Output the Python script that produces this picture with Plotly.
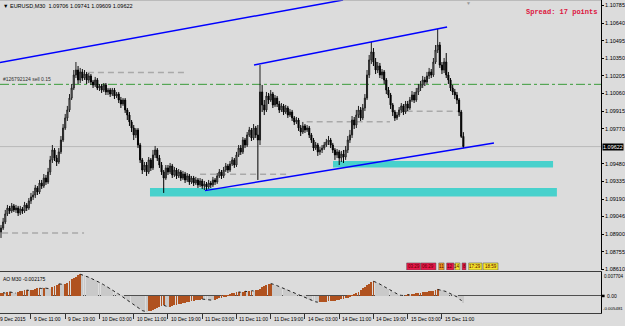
import plotly.graph_objects as go
import pandas as pd

# ---------------- data (EURUSD M30) ----------------
first_open = 1.08918
closes = [
    1.08951, 1.09001, 1.09067, 1.09116, 1.09091, 1.09133, 1.09100, 1.09116, 1.09075, 1.09108,
    1.09091, 1.09141, 1.09116, 1.09174, 1.09207, 1.09223, 1.09281, 1.09248, 1.09322, 1.09297,
    1.09363, 1.09330, 1.09413, 1.09512, 1.09594, 1.09528, 1.09495, 1.09578, 1.09676, 1.09775,
    1.09858, 1.09924, 1.10022, 1.10105, 1.10212, 1.10253, 1.10171, 1.10237, 1.10187, 1.10220,
    1.10171, 1.10204, 1.10154, 1.10130, 1.10171, 1.10105, 1.10121, 1.10088, 1.10130, 1.10072,
    1.10088, 1.10055, 1.10088, 1.10039, 1.10055, 1.10006, 1.09973, 1.10006, 1.09924, 1.09882,
    1.09825, 1.09775, 1.09718, 1.09759, 1.09635, 1.09512, 1.09429, 1.09470, 1.09413, 1.09512,
    1.09446, 1.09553, 1.09594, 1.09528, 1.09470, 1.09413, 1.09363, 1.09446, 1.09413, 1.09462,
    1.09388, 1.09429, 1.09380, 1.09413, 1.09363, 1.09396, 1.09347, 1.09380, 1.09330, 1.09363,
    1.09322, 1.09347, 1.09306, 1.09339, 1.09297, 1.09314, 1.09289, 1.09322, 1.09306, 1.09347,
    1.09330, 1.09380, 1.09413, 1.09380, 1.09429, 1.09462, 1.09429, 1.09479, 1.09512, 1.09470,
    1.09553, 1.09610, 1.09578, 1.09676, 1.09635, 1.09718, 1.09759, 1.09693, 1.09775, 1.09718,
    1.09676, 1.10072, 1.09965, 1.09924, 1.10039, 1.10006, 1.10055, 1.09965, 1.10022, 1.09973,
    1.09924, 1.09957, 1.09907, 1.09940, 1.09882, 1.09907, 1.09858, 1.09825, 1.09841, 1.09775,
    1.09742, 1.09792, 1.09759, 1.09775, 1.09718, 1.09676, 1.09610, 1.09635, 1.09578, 1.09594,
    1.09610, 1.09635, 1.09660, 1.09676, 1.09635, 1.09594, 1.09553, 1.09578, 1.09528, 1.09561,
    1.09536, 1.09594, 1.09676, 1.09718, 1.09841, 1.09800, 1.09882, 1.09924, 1.09858, 1.09940,
    1.10022, 1.10212, 1.10336, 1.10402, 1.10319, 1.10253, 1.10286, 1.10212, 1.10237, 1.10171,
    1.10088, 1.10047, 1.09965, 1.09907, 1.09858, 1.09882, 1.09924, 1.09957, 1.09907, 1.09973,
    1.09940, 1.10006, 1.10047, 1.10006, 1.10072, 1.10105, 1.10130, 1.10171, 1.10154, 1.10204,
    1.10237, 1.10212, 1.10319, 1.10418, 1.10459, 1.10294, 1.10253, 1.10319, 1.10212, 1.10171,
    1.10105, 1.10072, 1.10047, 1.10006, 1.09907, 1.09706, 1.09622,
]
highs = [
    1.08976, 1.09034, 1.09100, 1.09141, 1.09133, 1.09157, 1.09149, 1.09141, 1.09133, 1.09133,
    1.09124, 1.09166, 1.09157, 1.09198, 1.09240, 1.09256, 1.09306, 1.09297, 1.09347, 1.09347,
    1.09396, 1.09388, 1.09446, 1.09545, 1.09635, 1.09610, 1.09553, 1.09610, 1.09709, 1.09808,
    1.09891, 1.09957, 1.10055, 1.10138, 1.10253, 1.10319, 1.10286, 1.10270, 1.10261, 1.10253,
    1.10237, 1.10228, 1.10220, 1.10171, 1.10196, 1.10187, 1.10138, 1.10138, 1.10146, 1.10146,
    1.10105, 1.10105, 1.10105, 1.10105, 1.10072, 1.10072, 1.10031, 1.10022, 1.10022, 1.09940,
    1.09907, 1.09841, 1.09800, 1.09775, 1.09775, 1.09652, 1.09528, 1.09495, 1.09495, 1.09536,
    1.09528, 1.09594, 1.09627, 1.09610, 1.09553, 1.09495, 1.09429, 1.09470, 1.09470, 1.09487,
    1.09479, 1.09454, 1.09446, 1.09437, 1.09429, 1.09421, 1.09413, 1.09404, 1.09396, 1.09380,
    1.09380, 1.09372, 1.09363, 1.09363, 1.09355, 1.09339, 1.09330, 1.09347, 1.09339, 1.09372,
    1.09363, 1.09404, 1.09437, 1.09429, 1.09454, 1.09487, 1.09479, 1.09503, 1.09536, 1.09528,
    1.09578, 1.09635, 1.09635, 1.09701, 1.09693, 1.09742, 1.09784, 1.09775, 1.09808, 1.09792,
    1.09800, 1.10294, 1.10130, 1.10006, 1.10072, 1.10064, 1.10088, 1.10072, 1.10047, 1.10039,
    1.09998, 1.09981, 1.09973, 1.09965, 1.09957, 1.09932, 1.09924, 1.09874, 1.09866, 1.09858,
    1.09800, 1.09825, 1.09808, 1.09800, 1.09792, 1.09734, 1.09693, 1.09660, 1.09652, 1.09619,
    1.09635, 1.09660, 1.09685, 1.09709, 1.09693, 1.09652, 1.09610, 1.09602, 1.09594, 1.09586,
    1.09594, 1.09627, 1.09709, 1.09759, 1.09874, 1.09866, 1.09924, 1.09957, 1.09948, 1.09973,
    1.10055, 1.10253, 1.10377, 1.10484, 1.10434, 1.10352, 1.10319, 1.10311, 1.10261, 1.10253,
    1.10187, 1.10113, 1.10064, 1.09981, 1.09924, 1.09907, 1.09948, 1.09981, 1.09973, 1.09998,
    1.09998, 1.10031, 1.10080, 1.10072, 1.10105, 1.10138, 1.10163, 1.10204, 1.10196, 1.10237,
    1.10270, 1.10261, 1.10352, 1.10459, 1.10591, 1.10484, 1.10319, 1.10352, 1.10393, 1.10237,
    1.10187, 1.10130, 1.10097, 1.10072, 1.10022, 1.09924, 1.09741,
]
lows = [
    1.08869, 1.08935, 1.08984, 1.09050, 1.09067, 1.09075, 1.09083, 1.09075, 1.09050, 1.09058,
    1.09067, 1.09075, 1.09091, 1.09100, 1.09149, 1.09182, 1.09198, 1.09223, 1.09231, 1.09273,
    1.09281, 1.09306, 1.09314, 1.09388, 1.09487, 1.09503, 1.09462, 1.09479, 1.09561, 1.09660,
    1.09759, 1.09833, 1.09907, 1.10006, 1.10088, 1.10187, 1.10138, 1.10146, 1.10163, 1.10171,
    1.10138, 1.10146, 1.10130, 1.10105, 1.10113, 1.10088, 1.10080, 1.10064, 1.10072, 1.10047,
    1.10047, 1.10031, 1.10039, 1.10014, 1.10022, 1.09981, 1.09940, 1.09957, 1.09899, 1.09841,
    1.09792, 1.09742, 1.09676, 1.09693, 1.09610, 1.09487, 1.09396, 1.09413, 1.09380, 1.09396,
    1.09421, 1.09429, 1.09528, 1.09503, 1.09446, 1.09388, 1.09240, 1.09347, 1.09388, 1.09396,
    1.09363, 1.09372, 1.09355, 1.09363, 1.09339, 1.09347, 1.09322, 1.09330, 1.09306, 1.09314,
    1.09297, 1.09306, 1.09281, 1.09289, 1.09273, 1.09264, 1.09256, 1.09273, 1.09281, 1.09289,
    1.09306, 1.09314, 1.09363, 1.09355, 1.09363, 1.09413, 1.09404, 1.09413, 1.09462, 1.09446,
    1.09454, 1.09536, 1.09553, 1.09561, 1.09610, 1.09619, 1.09701, 1.09668, 1.09676, 1.09693,
    1.09347, 1.09635, 1.09907, 1.09882, 1.09907, 1.09973, 1.09990, 1.09940, 1.09948, 1.09948,
    1.09899, 1.09907, 1.09882, 1.09891, 1.09858, 1.09866, 1.09833, 1.09800, 1.09808, 1.09751,
    1.09709, 1.09726, 1.09734, 1.09742, 1.09693, 1.09652, 1.09586, 1.09594, 1.09545, 1.09553,
    1.09569, 1.09594, 1.09619, 1.09635, 1.09610, 1.09569, 1.09512, 1.09528, 1.09470, 1.09495,
    1.09487, 1.09512, 1.09569, 1.09652, 1.09693, 1.09767, 1.09775, 1.09858, 1.09833, 1.09841,
    1.09915, 1.10006, 1.10187, 1.10303, 1.10286, 1.10220, 1.10228, 1.10187, 1.10179, 1.10138,
    1.10055, 1.10022, 1.09932, 1.09874, 1.09833, 1.09841, 1.09866, 1.09899, 1.09882, 1.09891,
    1.09915, 1.09924, 1.09990, 1.09981, 1.09990, 1.10047, 1.10080, 1.10105, 1.10121, 1.10138,
    1.10179, 1.10187, 1.10196, 1.10303, 1.10393, 1.10270, 1.10220, 1.10228, 1.10187, 1.10138,
    1.10080, 1.10047, 1.10014, 1.09973, 1.09874, 1.09693, 1.09609,
]
opens = [first_open] + closes[:-1]

ao_values = [
    0.0010, 0.0011, 0.0009, 0.0012, 0.0013, 0.0011, 0.0010, 0.0009, 0.0012, 0.0015,
    0.0017, 0.0018, 0.0019, 0.0018, 0.0019, 0.0020, 0.0022, 0.0024, 0.0025, 0.0024,
    0.0026, 0.0025, 0.0024, 0.0023, 0.0028, 0.0032, 0.0035, 0.0039, 0.0038, 0.0037,
    0.0039, 0.0043, 0.0048, 0.0053, 0.0058, 0.0062, 0.0067, 0.0070, 0.0068, 0.0066,
    0.0063, 0.0060, 0.0057, 0.0054, 0.0051, 0.0047, 0.0044, 0.0040, 0.0036, 0.0032,
    0.0028, 0.0024, 0.0020, 0.0016, 0.0011, 0.0006, 0.0001, -0.0004, -0.0009, -0.0014,
    -0.0019, -0.0024, -0.0029, -0.0034, -0.0039, -0.0043, -0.0047, -0.0049, -0.0050, -0.00495,
    -0.0048, -0.0045, -0.0042, -0.0039, -0.0036, -0.0033, -0.0030, -0.0032, -0.0035, -0.0034,
    -0.0032, -0.0030, -0.0028, -0.0027, -0.0025, -0.0023, -0.0022, -0.0020, -0.0019, -0.0017,
    -0.0016, -0.0014, -0.0013, -0.0012, -0.0010, -0.0011, -0.0012, -0.0013, -0.00135, -0.0014,
    -0.0012, -0.0010, -0.0008, -0.0006, -0.0004, -0.0001, 0.0002, 0.0005, 0.0008, 0.0010,
    0.0012, 0.0013, 0.0012, 0.0014, 0.0015, 0.0014, 0.0016, 0.0017, 0.0016, 0.0018,
    0.0019, 0.0023, 0.0028, 0.0032, 0.0035, 0.0038, 0.0040, 0.0039, 0.0036, 0.0033,
    0.0030, 0.0027, 0.0024, 0.0021, 0.0018, 0.0015, 0.0012, 0.0009, 0.0006, 0.0003,
    0.0000, -0.0003, -0.0006, -0.0009, -0.0012, -0.0015, -0.0017, -0.0019, -0.0020, -0.00195,
    -0.0019, -0.00185, -0.0018, -0.0017, -0.00165, -0.0016, -0.0015, -0.0014, -0.0013, -0.0011,
    -0.0009, -0.0007, -0.0005, -0.0002, 0.0001, 0.0005, 0.0009, 0.0014, 0.0019, 0.0024,
    0.0029, 0.0034, 0.0039, 0.0044, 0.0047, 0.0045, 0.0042, 0.0038, 0.0034, 0.0030,
    0.0026, 0.0022, 0.0018, 0.0014, 0.0010, 0.0006, 0.0003, 0.0002, 0.00015, 0.0003,
    0.0004, 0.0003, 0.0005, 0.0007, 0.0008, 0.0009, 0.0011, 0.0012, 0.0013, 0.0014,
    0.0015, 0.0016, 0.0017, 0.0019, 0.0021, 0.0020, 0.0018, 0.0016, 0.0014, 0.0011,
    0.0008, 0.0005, 0.0002, -0.0003, -0.0008, -0.0014, -0.002175,
]

session_a = pd.date_range("2015-12-09 04:00", "2015-12-11 23:30", freq="30min")
session_b = pd.date_range("2015-12-14 00:00", "2015-12-15 16:00", freq="30min")
bar_times = [t.strftime("%Y-%m-%d %H:%M") for t in list(session_a) + list(session_b)]
bar_pos = list(range(len(bar_times)))

time_label_times = ["2015-12-09 11:00", "2015-12-09 19:00", "2015-12-10 03:00", "2015-12-10 11:00",
                    "2015-12-10 19:00", "2015-12-11 03:00", "2015-12-11 11:00", "2015-12-11 19:00",
                    "2015-12-14 03:00", "2015-12-14 11:00", "2015-12-14 19:00", "2015-12-15 03:00",
                    "2015-12-15 11:00"]
time_label_text = ["9 Dec 11:00", "9 Dec 19:00", "10 Dec 03:00", "10 Dec 11:00", "10 Dec 19:00",
                   "11 Dec 03:00", "11 Dec 11:00", "11 Dec 19:00", "14 Dec 03:00", "14 Dec 11:00",
                   "14 Dec 19:00", "15 Dec 03:00", "15 Dec 11:00"]
first_date_label = "9 Dec 2015"

price_ticks = [1.10785, 1.10640, 1.10495, 1.10350, 1.10205, 1.10060, 1.09915, 1.09770,
               1.09480, 1.09335, 1.09190, 1.09046, 1.08900, 1.08755, 1.08610]
price_range = [1.08605, 1.10830]
ao_max, ao_min = 0.007704, -0.005481

bid_price = 1.09622
order_price = 1.10135
order_text = "#126792124 sell 0.15"
header_text = "▼ EURUSD,M30  1.09706 1.09741 1.09609 1.09622"
spread_text = "Spread: 17 points"
ao_title = "AO M30 -0.002175"

# drawn objects (bar position, price)
trend_lines = [((-0.5, 1.10315), (159.8, 1.10830)),
               ((118.2, 1.10294), (208.4, 1.10608)),
               ((95.3, 1.09259), (230.3, 1.09652))]
zones = [(69.6, 259.7, 1.09211, 1.09281), (155.1, 257.9, 1.09450, 1.09503)]
dashed_levels = [(40.6, 86.9, 1.10233), (0.5, 38.8, 1.08910), (93.0, 135.0, 1.09394),
                 (142.8, 181.7, 1.09827), (189.5, 214.0, 1.09913)]
event_text = ["03:29", "06:29", "11", "12", "14", "8", "17:29", "18:59"]
event_start = [189.5, 196.2, 204.5, 208.2, 212.1, 215.4, 218.5, 225.2]
event_end = [196.0, 203.2, 207.0, 211.6, 214.4, 217.2, 224.7, 232.2]
event_color = ["#e8174a", "#e8174a", "#f39a1e", "#e8174a", "#f4e62c", "#e8174a", "#f4e62c", "#f4e62c"]

# ---------------- figure ----------------
BG = "#dcdcdc"
FONT = "Liberation Sans"
fig = go.Figure()

fig.add_trace(go.Candlestick(
    x=bar_pos, open=opens, high=highs, low=lows, close=closes,
    increasing=dict(line=dict(color="#1e1e1e", width=1), fillcolor="#b4b4b4"),
    decreasing=dict(line=dict(color="#000000", width=1), fillcolor="#000000"),
    whiskerwidth=0, xaxis="x", yaxis="y", showlegend=False, hoverinfo="skip"))

ao_colors = []
for i, v in enumerate(ao_values):
    rising = i == 0 or v >= ao_values[i - 1]
    ao_colors.append("#b0521f" if rising else "#c9c9c9")
fig.add_trace(go.Bar(x=bar_pos, y=ao_values, marker=dict(color=ao_colors, line=dict(width=0)),
                     width=0.42, xaxis="x2", yaxis="y2", showlegend=False, hoverinfo="skip"))
ao_fall = []
for i, v in enumerate(ao_values):
    falling = (i > 0 and v < ao_values[i - 1]) or (i + 1 < len(ao_values) and ao_values[i + 1] < v)
    ao_fall.append(v if falling else None)
fig.add_trace(go.Scatter(x=bar_pos, y=ao_fall, mode="lines", connectgaps=False,
                         line=dict(color="#222222", width=1, dash="dot"),
                         xaxis="x2", yaxis="y2", showlegend=False, hoverinfo="skip"))

shapes = []
for x0, x1, y0, y1 in zones:
    shapes.append(dict(type="rect", xref="x", yref="y", x0=x0, x1=x1, y0=y0, y1=y1,
                       fillcolor="#48d1cc", line=dict(width=0), layer="below"))
for x0, x1, y in dashed_levels:
    shapes.append(dict(type="line", xref="x", yref="y", x0=x0, x1=x1, y0=y, y1=y,
                       line=dict(color="#a9a9a9", width=1.5, dash="6px,4px"), layer="below"))
shapes.append(dict(type="line", xref="paper", yref="y", x0=0, x1=1, y0=order_price, y1=order_price,
                   line=dict(color="#3a9c3a", width=1, dash="dashdot"), layer="below"))
shapes.append(dict(type="line", xref="paper", yref="y", x0=0, x1=1, y0=bid_price, y1=bid_price,
                   line=dict(color="#b9b9b9", width=1), layer="below"))
for (xa, ya), (xb, yb) in trend_lines:
    shapes.append(dict(type="line", xref="x", yref="y", x0=xa, y0=ya, x1=xb, y1=yb,
                       line=dict(color="#0000ff", width=1.5)))
for t, x0, x1, c in zip(event_text, event_start, event_end, event_color):
    shapes.append(dict(type="rect", xref="x", yref="y", x0=x0, x1=x1, y0=price_range[0], y1=1.08663,
                       fillcolor=c, line=dict(color="#505050", width=0.5)))
shapes.append(dict(type="rect", xref="paper", yref="y2", x0=1.0, x1=1.006, y0=-0.0004, y1=0.0004,
                   fillcolor="#000000", line=dict(width=0)))
shapes.append(dict(type="line", xref="paper", yref="paper", x0=0, x1=1, y0=1, y1=1,
                   line=dict(color="#9a9a9a", width=1)))

annotations = []
annotations.append(dict(text=header_text, xref="paper", yref="paper", x=0, y=1, xanchor="left",
                        yanchor="top", yshift=-1, xshift=1, showarrow=False,
                        font=dict(family=FONT, size=5.5, color="#000000")))
annotations.append(dict(text="<b>" + spread_text + "</b>", xref="paper", yref="paper", x=0.997, y=1,
                        xanchor="right", yanchor="top", yshift=-6, showarrow=False,
                        font=dict(family="Liberation Mono", size=7, color="#dc143c")))
annotations.append(dict(text=order_text, xref="paper", yref="y", x=0, y=order_price, xanchor="left",
                        yanchor="bottom", xshift=1, yshift=0, showarrow=False,
                        font=dict(family=FONT, size=5, color="#303030")))
annotations.append(dict(text=ao_title, xref="paper", yref="y2 domain", x=0, y=1, xanchor="left",
                        yanchor="top", xshift=1, yshift=-2, showarrow=False,
                        font=dict(family=FONT, size=5, color="#000000")))
annotations.append(dict(text=f"{bid_price:.5f}", xref="paper", yref="y", x=1, y=bid_price,
                        xanchor="left", yanchor="middle", xshift=1, showarrow=False, bgcolor="#000000",
                        borderpad=0, font=dict(family=FONT, size=5.5, color="#ffffff")))
for txt, yv, anc, xs, fs in [(f"{ao_max:.6f}", ao_max, "top", 1, 4.6), ("0.00", 0, "middle", 4, 5),
                             (f"{ao_min:.6f}", ao_min, "bottom", 0, 4.4)]:
    annotations.append(dict(text=txt, xref="paper", yref="y2", x=1, y=yv, xanchor="left", yanchor=anc,
                            xshift=xs, showarrow=False,
                            font=dict(family=FONT, size=fs, color="#000000")))
for t, x0, x1 in zip(event_text, event_start, event_end):
    annotations.append(dict(text=t, xref="x", yref="y", x=(x0 + x1) / 2, y=(price_range[0] + 1.08663) / 2,
                            xanchor="center", yanchor="middle", showarrow=False,
                            font=dict(family=FONT, size=4.5, color="#5a0000")))
annotations.append(dict(text="▼", xref="x", yref="paper", x=218.2, y=1, xanchor="center", yanchor="top",
                        showarrow=False, font=dict(size=5, color="#999999"), yshift=2))
tick_positions = [bar_times.index(t) for t in time_label_times]
annotations.append(dict(text=first_date_label, xref="paper", yref="paper", x=0, y=0, xanchor="left",
                        yanchor="top", xshift=-2, yshift=-1, showarrow=False,
                        font=dict(family=FONT, size=5, color="#000000")))
for pos, txt in zip(tick_positions, time_label_text):
    annotations.append(dict(text=txt, xref="x2", yref="paper", x=pos, y=0, xanchor="left",
                            yanchor="top", xshift=1, yshift=-1, showarrow=False,
                            font=dict(family=FONT, size=5, color="#000000")))

x_range = [-0.47, 280.3]
fig.update_layout(
    width=625, height=326, margin=dict(l=0, r=24, t=0, b=13),
    paper_bgcolor=BG, plot_bgcolor=BG, hovermode=False, showlegend=False,
    bargap=0,
    xaxis=dict(domain=[0, 1], range=x_range, anchor="y", showticklabels=False, showgrid=False,
               zeroline=False, showline=False, ticks="", rangeslider=dict(visible=False)),
    yaxis=dict(domain=[0.1374, 1], range=price_range, side="right", anchor="x", showgrid=False,
               zeroline=False, showline=True, linecolor="#000000", linewidth=1,
               tickvals=price_ticks, ticktext=[f"{p:.5f}" for p in price_ticks],
               ticks="outside", ticklen=2, tickcolor="#000000",
               tickfont=dict(family=FONT, size=5.5, color="#000000")),
    xaxis2=dict(domain=[0, 1], range=x_range, anchor="y2", showticklabels=False, showgrid=False,
                zeroline=False, showline=True, mirror=True, linecolor="#3c3c3c", linewidth=1,
                tickvals=tick_positions, ticks="outside", ticklen=5, tickcolor="#333333"),
    yaxis2=dict(domain=[0, 0.131], range=[ao_min, ao_max], side="right", anchor="x2", showgrid=False,
                zeroline=True, zerolinecolor="#505050", zerolinewidth=1, showline=True,
                linecolor="#000000", linewidth=1, showticklabels=False, ticks=""),
    shapes=shapes, annotations=annotations,
)

fig.write_html("out.html", config={"displayModeBar": False})
